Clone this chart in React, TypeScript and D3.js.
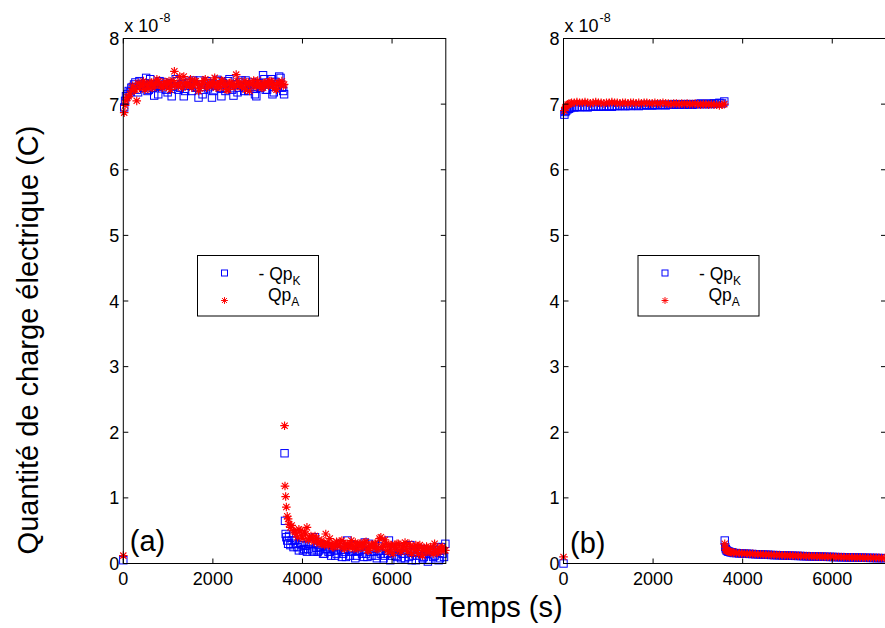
import React from "react";
import * as d3 from "d3";

// ---- data (charge in units of 1e-8 C) ----
const timeOn = [0, 20, 40, 60, 90, 120, 150, 180, 240, 300, 360, 420, 480, 540, 600, 660, 720, 780, 840, 900, 960, 1020, 1080, 1140, 1200, 1260, 1320, 1380, 1440, 1500, 1560, 1620, 1680, 1740, 1800, 1860, 1920, 1980, 2040, 2100, 2160, 2220, 2280, 2340, 2400, 2460, 2520, 2580, 2640, 2700, 2760, 2820, 2880, 2940, 3000, 3060, 3120, 3180, 3240, 3300, 3360, 3420, 3480, 3540, 3590];
const timeOff = [3600, 3610, 3625, 3640, 3660, 3680, 3700, 3730, 3760, 3800, 3860, 3920, 3980, 4040, 4100, 4160, 4220, 4280, 4340, 4400, 4460, 4520, 4580, 4640, 4700, 4760, 4820, 4880, 4940, 5000, 5060, 5120, 5180, 5240, 5300, 5360, 5420, 5480, 5540, 5600, 5660, 5720, 5780, 5840, 5900, 5960, 6020, 6080, 6140, 6200, 6260, 6320, 6380, 6440, 6500, 6560, 6620, 6680, 6740, 6800, 6860, 6920, 6980, 7040, 7100, 7160];
// extra (interleaved) sample times for the noisier panel (a)
const timeOnMid = [210, 270, 330, 390, 450, 510, 570, 630, 690, 750, 810, 870, 930, 990, 1050, 1110, 1170, 1230, 1290, 1350, 1410, 1470, 1530, 1590, 1650, 1710, 1770, 1830, 1890, 1950, 2010, 2070, 2130, 2190, 2250, 2310, 2370, 2430, 2490, 2550, 2610, 2670, 2730, 2790, 2850, 2910, 2970, 3030, 3090, 3150, 3210, 3270, 3330, 3390, 3450, 3510, 3570];
const timeOffMid = [3830, 3890, 3950, 4010, 4070, 4130, 4190, 4250, 4310, 4370, 4430, 4490, 4550, 4610, 4670, 4730, 4790, 4850, 4910, 4970, 5030, 5090, 5150, 5210, 5270, 5330, 5390, 5450, 5510, 5570, 5630, 5690, 5750, 5810, 5870, 5930, 5990, 6050, 6110, 6170, 6230, 6290, 6350, 6410, 6470, 6530, 6590, 6650, 6710, 6770, 6830, 6890, 6950, 7010, 7070, 7130, 7190];

// panel (a)
const aQpKOn = [0.05, 6.95, 7.05, 7.12, 7.15, 7.2, 7.18, 7.25,
  7.3, 7.22, 7.35, 7.28, 7.32, 7.2, 7.38, 7.25, 7.3, 7.15,
  7.28, 7.33, 7.22, 7.3, 7.12, 7.27, 7.35, 7.25, 7.3, 7.2,
  7.32, 7.28, 7.36, 7.25, 7.1, 7.3, 7.22, 7.35, 7.27, 7.1,
  7.3, 7.37, 7.25, 7.32, 7.2, 7.35, 7.28, 7.13, 7.3, 7.25,
  7.36, 7.2, 7.3, 7.27, 7.33, 7.15, 7.3, 7.25, 7.44, 7.22,
  7.3, 7.38, 7.18, 7.3, 7.42, 7.25, 7.15];
const aQpKOnMid = [7.26, 7.33, 7.18, 7.3, 7.25, 7.4, 7.22, 7.3, 7.13, 7.28,
  7.35, 7.24, 7.3, 7.18, 7.32, 7.27, 7.38, 7.22, 7.3, 7.12,
  7.28, 7.34, 7.2, 7.3, 7.26, 7.36, 7.15, 7.3, 7.24, 7.32,
  7.2, 7.28, 7.35, 7.12, 7.3, 7.25, 7.38, 7.22, 7.3, 7.18,
  7.33, 7.27, 7.36, 7.2, 7.3, 7.24, 7.12, 7.32, 7.28, 7.38,
  7.22, 7.3, 7.15, 7.34, 7.28, 7.4, 7.2];
const aQpAOn = [0.12, 6.87, 6.98, 7.05, 7.1, 7.12, 7.15, 7.2,
  7.22, 7.05, 7.25, 7.3, 7.22, 7.28, 7.32, 7.25, 7.3, 7.35,
  7.28, 7.3, 7.26, 7.35, 7.28, 7.5, 7.3, 7.42, 7.25, 7.33,
  7.3, 7.38, 7.28, 7.35, 7.2, 7.3, 7.36, 7.25, 7.32, 7.28,
  7.4, 7.3, 7.25, 7.35, 7.3, 7.22, 7.33, 7.28, 7.45, 7.3,
  7.26, 7.35, 7.3, 7.2, 7.32, 7.28, 7.36, 7.3, 7.25, 7.33,
  7.28, 7.35, 7.3, 7.22, 7.32, 7.35, 7.3];
const aQpAOnMid = [7.28, 7.22, 7.32, 7.27, 7.35, 7.3, 7.24, 7.33, 7.28, 7.38,
  7.3, 7.25, 7.34, 7.3, 7.22, 7.36, 7.3, 7.27, 7.33, 7.42,
  7.28, 7.3, 7.25, 7.35, 7.3, 7.24, 7.32, 7.38, 7.28, 7.3,
  7.34, 7.25, 7.3, 7.36, 7.28, 7.22, 7.32, 7.3, 7.26, 7.35,
  7.3, 7.28, 7.22, 7.33, 7.3, 7.36, 7.27, 7.3, 7.25, 7.32,
  7.3, 7.35, 7.28, 7.24, 7.33, 7.3, 7.28];
const aQpKOff = [1.68, 0.65, 0.45, 0.4, 0.35, 0.3, 0.42, 0.28, 0.35, 0.25,
  0.3, 0.2, 0.28, 0.22, 0.18, 0.3, 0.2, 0.4, 0.18, 0.25,
  0.15, 0.22, 0.18, 0.12, 0.2, 0.15, 0.25, 0.1, 0.18, 0.35,
  0.12, 0.2, 0.08, 0.18, 0.25, 0.1, 0.15, 0.3, 0.12, 0.18,
  0.08, 0.2, 0.3, 0.12, 0.15, 0.05, 0.2, 0.12, 0.25, 0.08,
  0.15, 0.2, 0.1, 0.05, 0.18, 0.12, 0.22, 0.08, 0.15, 0.03,
  0.18, 0.1, 0.2, 0.05, 0.25, 0.1];
const aQpKOffMid = [0.35, 0.25, 0.32, 0.2, 0.27, 0.22, 0.3, 0.18, 0.24, 0.2,
  0.28, 0.15, 0.22, 0.18, 0.25, 0.12, 0.2, 0.3, 0.15, 0.1,
  0.22, 0.18, 0.28, 0.12, 0.2, 0.15, 0.32, 0.1, 0.18, 0.22,
  0.12, 0.26, 0.15, 0.08, 0.2, 0.35, 0.12, 0.18, 0.1, 0.22,
  0.15, 0.08, 0.2, 0.28, 0.12, 0.05, 0.18, 0.22, 0.1, 0.15,
  0.06, 0.2, 0.12, 0.25, 0.08, 0.15, 0.3];
const aQpAOff = [2.1, 1.18, 1.02, 0.86, 0.72, 0.68, 0.6, 0.55, 0.58, 0.5,
  0.45, 0.52, 0.42, 0.48, 0.55, 0.4, 0.38, 0.42, 0.35, 0.32,
  0.3, 0.45, 0.28, 0.3, 0.25, 0.33, 0.28, 0.35, 0.22, 0.3,
  0.25, 0.28, 0.32, 0.22, 0.3, 0.26, 0.33, 0.2, 0.28, 0.3,
  0.22, 0.38, 0.25, 0.36, 0.2, 0.28, 0.15, 0.25, 0.3, 0.18,
  0.28, 0.22, 0.3, 0.15, 0.25, 0.2, 0.28, 0.12, 0.22, 0.18,
  0.25, 0.15, 0.22, 0.18, 0.24, 0.2];
const aQpAOffMid = [0.48, 0.4, 0.5, 0.38, 0.45, 0.36, 0.42, 0.33, 0.38, 0.3,
  0.35, 0.28, 0.32, 0.38, 0.25, 0.3, 0.27, 0.33, 0.24, 0.3,
  0.26, 0.35, 0.22, 0.28, 0.3, 0.24, 0.32, 0.2, 0.27, 0.25,
  0.3, 0.22, 0.4, 0.26, 0.3, 0.18, 0.28, 0.22, 0.3, 0.2,
  0.25, 0.32, 0.18, 0.26, 0.22, 0.28, 0.15, 0.24, 0.2, 0.26,
  0.18, 0.22, 0.3, 0.16, 0.22, 0.25, 0.2];

// panel (b)
const bQpKOn = [0.0, 6.84, 6.88, 6.9, 6.92, 6.93, 6.94, 6.95,
  6.95, 6.96, 6.95, 6.96, 6.96, 6.95, 6.96, 6.97, 6.96, 6.96,
  6.97, 6.96, 6.97, 6.97, 6.96, 6.97, 6.97, 6.98, 6.97, 6.97,
  6.98, 6.97, 6.98, 6.98, 6.97, 6.98, 6.98, 6.99, 6.98, 6.98,
  6.99, 6.98, 6.99, 6.99, 6.98, 6.99, 6.99, 7.0, 6.99, 6.99,
  7.0, 6.99, 7.0, 7.0, 6.99, 7.0, 7.0, 7.01, 7.0, 7.0,
  7.01, 7.0, 7.01, 7.01, 7.02, 7.01, 7.04];
const bQpAOn = [0.1, 6.9, 6.95, 6.97, 6.99, 7.0, 7.01, 7.02,
  7.02, 7.03, 7.02, 7.02, 7.03, 7.02, 7.01, 7.02, 7.03, 7.02,
  7.02, 7.01, 7.02, 7.02, 7.03, 7.02, 7.02, 7.01, 7.02, 7.02,
  7.01, 7.02, 7.02, 7.01, 7.02, 7.01, 7.02, 7.02, 7.01, 7.01,
  7.02, 7.01, 7.01, 7.02, 7.01, 7.01, 7.0, 7.01, 7.01, 7.0,
  7.01, 7.0, 7.01, 7.0, 7.0, 7.01, 7.0, 6.99, 7.0, 7.0,
  6.99, 7.0, 6.99, 6.99, 6.98, 6.99, 7.0];
const bQpKOff = [0.35, 0.25, 0.22, 0.2, 0.19, 0.18, 0.18, 0.17, 0.17, 0.16,
  0.158, 0.155, 0.152, 0.15, 0.148, 0.146, 0.144, 0.142, 0.14, 0.138,
  0.136, 0.134, 0.132, 0.13, 0.128, 0.127, 0.126, 0.124, 0.122, 0.12,
  0.119, 0.118, 0.116, 0.115, 0.114, 0.112, 0.111, 0.11, 0.108, 0.107,
  0.106, 0.105, 0.104, 0.102, 0.101, 0.1, 0.099, 0.098, 0.097, 0.096,
  0.095, 0.094, 0.093, 0.092, 0.091, 0.09, 0.089, 0.088, 0.087, 0.086,
  0.085, 0.084, 0.084, 0.083, 0.082, 0.081];
const bQpAOff = [0.3, 0.24, 0.21, 0.2, 0.19, 0.185, 0.18, 0.175, 0.17, 0.165,
  0.162, 0.158, 0.155, 0.153, 0.15, 0.148, 0.146, 0.144, 0.142, 0.14,
  0.138, 0.136, 0.134, 0.132, 0.13, 0.129, 0.128, 0.126, 0.124, 0.122,
  0.121, 0.12, 0.118, 0.117, 0.116, 0.114, 0.113, 0.112, 0.11, 0.109,
  0.108, 0.107, 0.106, 0.104, 0.103, 0.102, 0.101, 0.1, 0.099, 0.098,
  0.097, 0.096, 0.095, 0.094, 0.093, 0.092, 0.091, 0.09, 0.089, 0.088,
  0.087, 0.086, 0.086, 0.085, 0.084, 0.083];

const xTicks = [0, 2000, 4000, 6000];
const yTicks = [0, 1, 2, 3, 4, 5, 6, 7, 8];
const panelLabels = ["(a)", "(b)"];
const yTitle = "Quantité de charge électrique (C)";
const xTitle = "Temps (s)";

const FONT = "'Liberation Sans', Arial, Helvetica, sans-serif";
const BLUE = "#0000ff";
const RED = "#ff0000";

const TOP = 38.5;
const BOTTOM = 563.5;
const PW = 322.5;

function pairs(times: number[], vals: number[]) {
  const n = Math.min(times.length, vals.length);
  const out: [number, number][] = [];
  for (let i = 0; i < n; i++) out.push([times[i], vals[i]]);
  return out;
}

const STAR = "M-4.3,0L4.3,0M0,-4.3L0,4.3M-3.1,-3.1L3.1,3.1M-3.1,3.1L3.1,-3.1";

function Panel({ x0, label, kSets, aSets, legendX, labelY }: any) {
  const x = d3.scaleLinear().domain([0, 7200]).range([x0, x0 + PW]);
  const y = d3.scaleLinear().domain([0, 8]).range([BOTTOM, TOP]);
  const kPts = kSets.flatMap(([t, v]: any) => pairs(t, v));
  const aPts = aSets.flatMap(([t, v]: any) => pairs(t, v));
  const lx = legendX;
  return (
    <g>
      {/* data */}
      <g>
        {kPts.map(([t, v]: any, i: number) => (
          <rect key={"k" + i} x={x(t) - 3.7} y={y(v) - 3.7} width={7.4} height={7.4}
            fill="none" stroke={BLUE} strokeWidth={1} />
        ))}
      </g>
      <g>
        {aPts.map(([t, v]: any, i: number) => (
          <path key={"a" + i} d={STAR} transform={`translate(${x(t)},${y(v)})`}
            fill="none" stroke={RED} strokeWidth={1.15} />
        ))}
      </g>
      {/* box */}
      <rect x={x0} y={TOP} width={PW} height={BOTTOM - TOP} fill="none" stroke="#000" strokeWidth={1} />
      {/* ticks */}
      {xTicks.map((t) => (
        <g key={"xt" + t}>
          <line x1={x(t)} x2={x(t)} y1={BOTTOM} y2={BOTTOM - 5} stroke="#000" />
          <line x1={x(t)} x2={x(t)} y1={TOP} y2={TOP + 5} stroke="#000" />
          <text x={x(t)} y={585} textAnchor="middle" fontSize={18} fontFamily={FONT}>{t}</text>
        </g>
      ))}
      {yTicks.map((v) => (
        <g key={"yt" + v}>
          <line x1={x0} x2={x0 + 5} y1={y(v)} y2={y(v)} stroke="#000" />
          <line x1={x0 + PW} x2={x0 + PW - 5} y1={y(v)} y2={y(v)} stroke="#000" />
          <text x={x0 - 4} y={y(v) + 6.5} textAnchor="end" fontSize={18} fontFamily={FONT}>{v}</text>
        </g>
      ))}
      {/* exponent */}
      <text x={x0 + 1} y={31.5} fontSize={18} fontFamily={FONT}>x 10</text>
      <text x={x0 + 36} y={22} fontSize={12.5} fontFamily={FONT}>-8</text>
      {/* panel label */}
      <text x={x0 + 6.5} y={labelY} fontSize={29} fontFamily={FONT}>{label}</text>
      {/* legend */}
      <rect x={lx} y={255.5} width={121} height={60.5} fill="#fff" stroke="#000" strokeWidth={1} />
      <rect x={lx + 24} y={270} width={6} height={6} fill="none" stroke={BLUE} strokeWidth={1} />
      <path d={STAR} transform={`translate(${lx + 27},${300.5}) scale(0.8)`} fill="none" stroke={RED} strokeWidth={1.2} />
      <text x={lx + 61} y={280} fontSize={17.5} fontFamily={FONT}>
        - Qp<tspan fontSize={12} dy={5}>K</tspan>
      </text>
      <text x={lx + 70.5} y={300.5} fontSize={17.5} fontFamily={FONT}>
        Qp<tspan fontSize={12} dy={5}>A</tspan>
      </text>
    </g>
  );
}

export default function App() {
  return (
    <svg width={885} height={628} style={{ position: "absolute", left: 0, top: 0, background: "#fff" }}
      xmlns="http://www.w3.org/2000/svg">
      <rect x={0} y={0} width={885} height={628} fill="#fff" />
      <Panel x0={123.3} label={panelLabels[0]}
        kSets={[[timeOn, aQpKOn], [timeOnMid, aQpKOnMid], [timeOff, aQpKOff], [timeOffMid, aQpKOffMid]]}
        aSets={[[timeOn, aQpAOn], [timeOnMid, aQpAOnMid], [timeOff, aQpAOff], [timeOffMid, aQpAOffMid]]}
        legendX={197.5} labelY={551} />
      <Panel x0={563.5} label={panelLabels[1]}
        kSets={[[timeOn, bQpKOn], [timeOff, bQpKOff]]}
        aSets={[[timeOn, bQpAOn], [timeOff, bQpAOff]]}
        legendX={638} labelY={553} />
      <text transform="translate(38,340) rotate(-90)" textAnchor="middle" fontSize={29} fontFamily={FONT}>{yTitle}</text>
      <text x={499} y={617} textAnchor="middle" fontSize={29} fontFamily={FONT}>{xTitle}</text>
    </svg>
  );
}
